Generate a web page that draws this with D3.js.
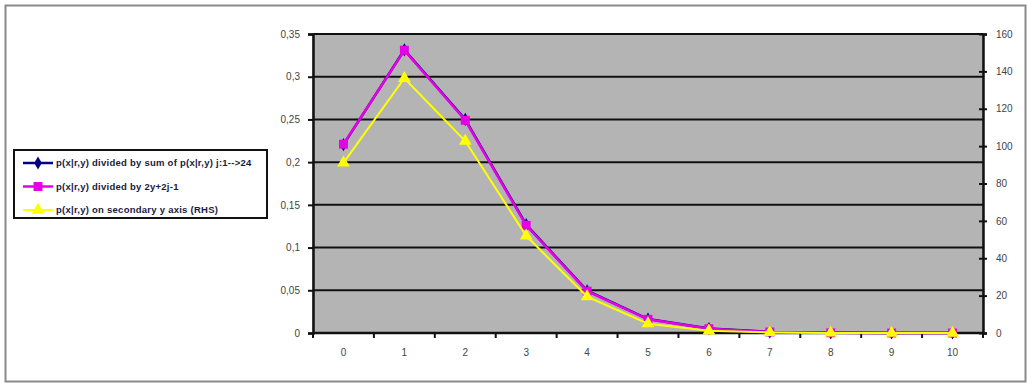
<!DOCTYPE html>
<html>
<head>
<meta charset="utf-8">
<script src="https://cdn.jsdelivr.net/npm/d3@7"></script>
<style>
body { margin: 0; background: #fff; }
#chart { width: 1032px; height: 384px; }
</style>
</head>
<body>
<div id="chart"></div>
<script>
var categories = ['0', '1', '2', '3', '4', '5', '6', '7', '8', '9', '10'];
var seriesSum = [0.2205, 0.3315, 0.2500, 0.1268, 0.0495, 0.0163, 0.0052, 0.0013, 0.0002, 0, 0];
var seriesDiv = [0.221, 0.331, 0.249, 0.126, 0.049, 0.016, 0.005, 0.0012, 0.0002, 0, 0];
var seriesRhs = [91, 136.3, 102.7, 52, 19.5, 5, 1.2, 0.3, 0.05, 0, 0];
var leftTicks = [0, 0.05, 0.1, 0.15, 0.2, 0.25, 0.3, 0.35];
var rightTicks = [0, 20, 40, 60, 80, 100, 120, 140, 160];
var legendLabels = [
	'p(x|r,y) divided by sum of p(x|r,y) j:1-->24',
	'p(x|r,y) divided by 2y+2j-1',
	'p(x|r,y) on secondary y axis (RHS)'
];

var id = 'chart';
var width = 1032, height = 384;
var plot = { left: 313, right: 983, top: 34, bottom: 333 };

var svg = d3.select('#' + id)
	.append('svg')
	.attr('width', width)
	.attr('height', height)
	.style('font-family', 'Arial, "Liberation Sans", sans-serif');

// outer frame
svg.append('rect')
	.attr('x', 5.5).attr('y', 5.5)
	.attr('width', 1020).attr('height', 376)
	.style('fill', '#fff')
	.style('stroke', '#8a8a8a')
	.style('stroke-width', 2);

var x = d3.scaleBand().domain(categories).range([plot.left, plot.right]);
var yL = d3.scaleLinear().domain([0, 0.35]).range([plot.bottom, plot.top]);
var yR = d3.scaleLinear().domain([0, 160]).range([plot.bottom, plot.top]);

svg.append('rect')
	.attr('x', plot.left).attr('y', plot.top)
	.attr('width', plot.right - plot.left).attr('height', plot.bottom - plot.top)
	.style('fill', '#b4b4b4')
	.style('stroke', '#808080')
	.style('stroke-width', 1);

// gridlines
svg.selectAll('.grid').data(leftTicks.slice(1))
	.enter().append('line')
	.attr('class', 'grid')
	.attr('x1', plot.left).attr('x2', plot.right)
	.attr('y1', function(d) { return yL(d); })
	.attr('y2', function(d) { return yL(d); })
	.style('stroke', '#111')
	.style('stroke-width', 2);

var fmt = function(d) { return String(d).replace('.', ','); };

var leftAxis = svg.append('g')
	.attr('transform', 'translate(' + plot.left + ',0)')
	.call(d3.axisLeft(yL).tickValues(leftTicks).tickFormat(fmt).tickSize(5).tickPadding(8));

var rightAxis = svg.append('g')
	.attr('transform', 'translate(' + plot.right + ',0)')
	.call(d3.axisRight(yR).tickValues(rightTicks).tickSize(4).tickPadding(9));
rightAxis.selectAll('.tick line').attr('x1', -4);

var xAxis = svg.append('g')
	.attr('transform', 'translate(0,' + plot.bottom + ')')
	.call(d3.axisBottom(x).tickSize(0).tickPadding(16));

// category boundary ticks
var bounds = categories.map(function(c) { return x(c); }).concat([plot.right]);
svg.selectAll('.xtick').data(bounds)
	.enter().append('line')
	.attr('x1', function(d) { return d; }).attr('x2', function(d) { return d; })
	.attr('y1', plot.bottom).attr('y2', plot.bottom + 5)
	.style('stroke', '#111').style('stroke-width', 2);

[leftAxis, rightAxis, xAxis].forEach(function(a) {
	a.select('.domain').style('stroke', '#111').style('stroke-width', 2.5);
	a.selectAll('.tick line').style('stroke', '#111').style('stroke-width', 2);
	a.selectAll('.tick text').style('font-size', '10px').style('fill', '#444');
});
xAxis.select('.domain').attr('d', 'M' + plot.left + ',0H' + plot.right);

function cx(d, i) { return x(categories[i]) + x.bandwidth() / 2; }

var series = [
	{ data: seriesSum, scale: yL, color: '#000080', width: 2.5, shape: d3.symbolDiamond, size: 50 },
	{ data: seriesDiv, scale: yL, color: '#e600e6', width: 2.5, shape: d3.symbolSquare, size: 80 },
	{ data: seriesRhs, scale: yR, color: '#ffff00', width: 2, shape: d3.symbolTriangle, size: 70 }
];

series.forEach(function(s) {
	var line = d3.line()
		.x(cx)
		.y(function(d) { return s.scale(d); });
	svg.append('path')
		.datum(s.data)
		.attr('d', line)
		.style('fill', 'none')
		.style('stroke', s.color)
		.style('stroke-width', s.width);
	svg.selectAll(null).data(s.data)
		.enter().append('path')
		.attr('d', d3.symbol().type(s.shape).size(s.size))
		.attr('transform', function(d, i) { return 'translate(' + cx(d, i) + ',' + s.scale(d) + ')'; })
		.style('fill', s.color);
});

// legend
var legend = svg.append('g');
legend.append('rect')
	.attr('x', 14).attr('y', 150)
	.attr('width', 253).attr('height', 68)
	.style('fill', '#fff')
	.style('stroke', '#111')
	.style('stroke-width', 2);

var items = legend.selectAll('.item').data(series)
	.enter().append('g')
	.attr('transform', function(d, i) { return 'translate(0,' + (163 + i * 23.5) + ')'; });
items.append('line')
	.attr('x1', 23).attr('x2', 53)
	.style('stroke', function(d) { return d.color; })
	.style('stroke-width', function(d) { return d.width; });
items.append('path')
	.attr('d', function(d) { return d3.symbol().type(d.shape).size(d.size)(); })
	.attr('transform', 'translate(38,0)')
	.style('fill', function(d) { return d.color; });
items.append('text')
	.attr('x', 56).attr('dy', '0.35em')
	.text(function(d, i) { return legendLabels[i]; })
	.style('font-size', '9.5px')
	.style('font-weight', 'bold')
	.style('letter-spacing', '0.25px')
	.style('fill', '#1a1a40');
</script>
</body>
</html>
